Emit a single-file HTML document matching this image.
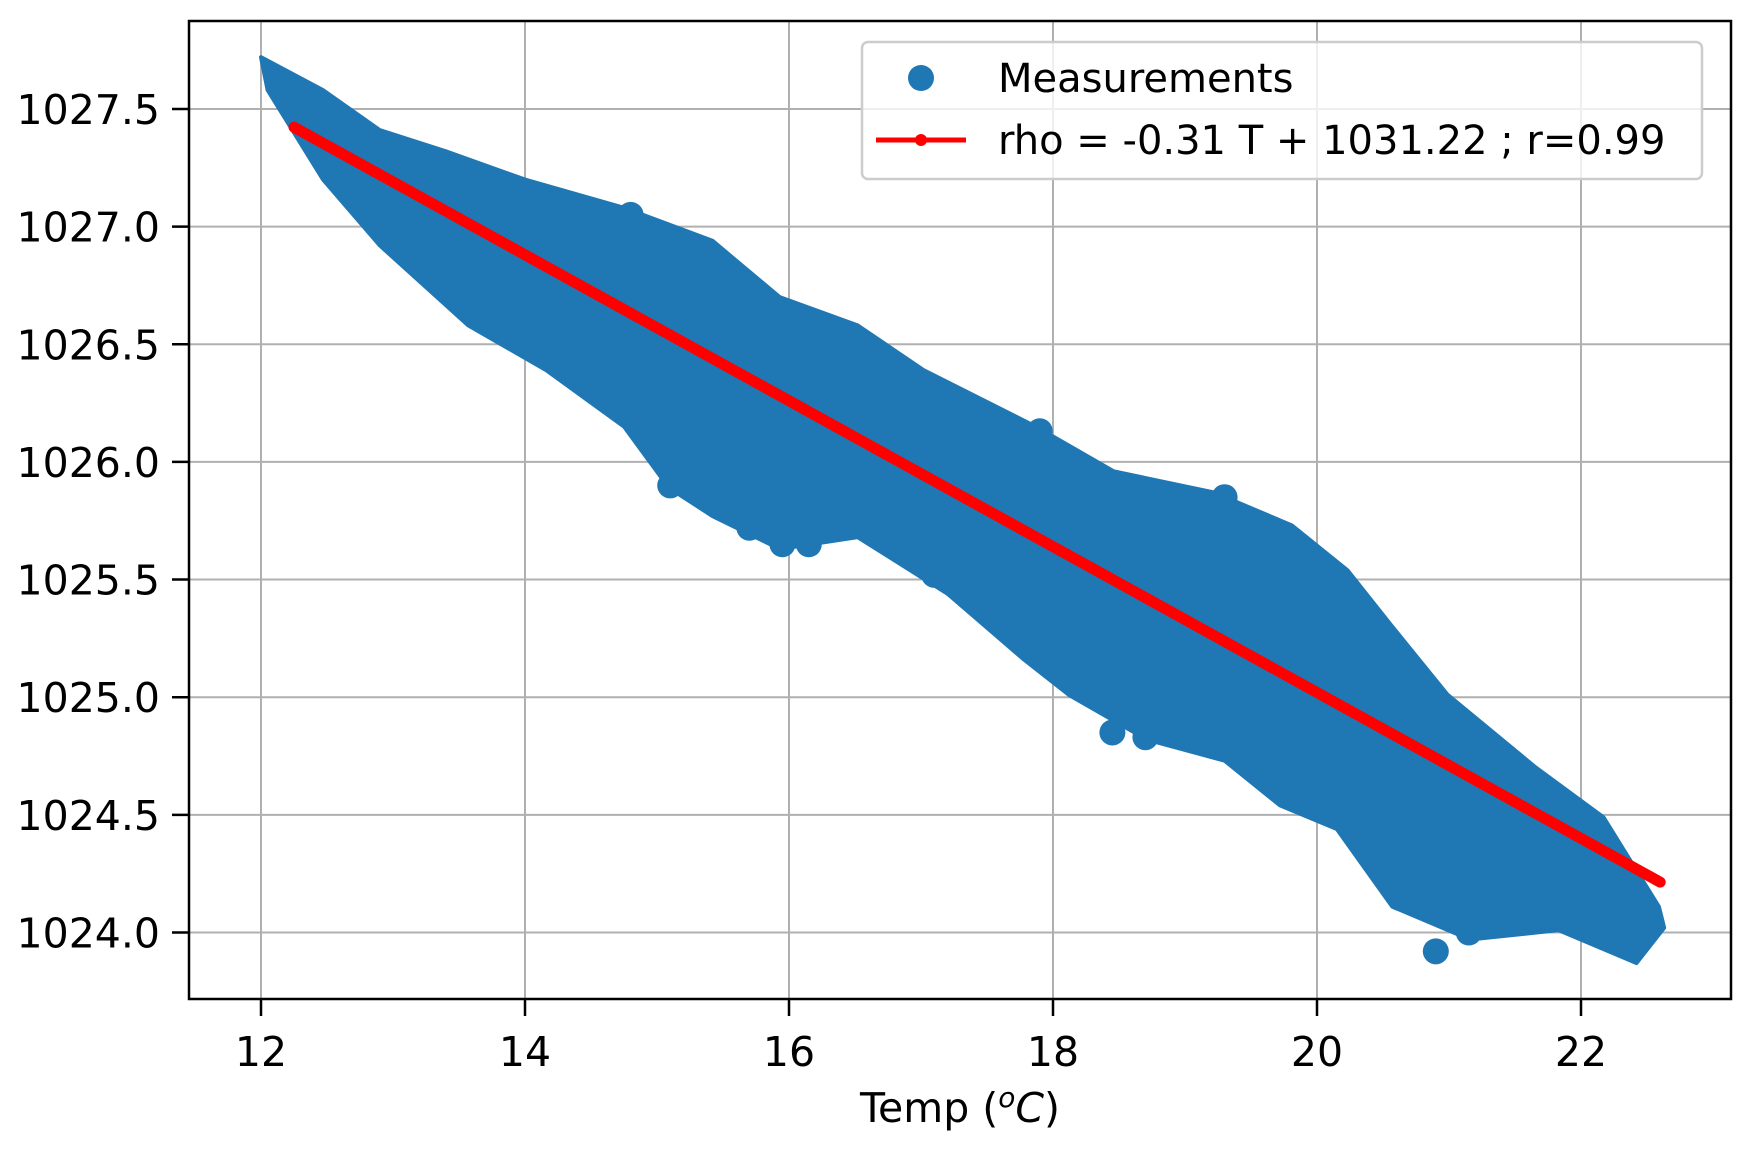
<!DOCTYPE html>
<html><head><meta charset="utf-8">
<style>body{margin:0;background:#fff}svg{display:block;font-family:"DejaVu Sans","Liberation Sans",sans-serif}</style></head>
<body>
<svg id="chart" width="1746" height="1153" viewBox="0 0 1746 1153" xmlns="http://www.w3.org/2000/svg">
<g id="grid"></g>
<g id="marks"></g>
<rect x="189" y="21" width="1542" height="978" fill="none" stroke="#000" stroke-width="2.5"/>
<g id="ticks"></g>
<text x="960" y="1122" font-size="41" text-anchor="middle">Temp (<tspan font-style="italic" font-size="28" dy="-15">o</tspan><tspan font-style="italic" dy="15">C</tspan>)</text>
<g>
<rect x="862" y="42" width="840" height="137" rx="6" fill="#fff" fill-opacity="0.8" stroke="#ccc" stroke-width="2.5"/>
<circle cx="921" cy="78" r="13" fill="#1f77b4"/>
<text x="998" y="92" font-size="40">Measurements</text>
<line x1="876" y1="140" x2="966" y2="140" stroke="red" stroke-width="5"/>
<circle cx="921" cy="140" r="6" fill="red"/>
<text x="998" y="154" font-size="40">rho = -0.31 T + 1031.22 ; r=0.99</text>
</g>
</svg>
<script>
const xTicks=[12,14,16,18,20,22];
const yTicks=[1024.0,1024.5,1025.0,1025.5,1026.0,1026.5,1027.0,1027.5];
const upperT=[12.0,12.47,12.9,13.4,14.0,14.75,15.42,15.93,16.52,17.02,17.87,18.46,19.22,19.81,20.23,20.57,20.99,21.66,22.17,22.59,22.63];
const upperRho=[1027.72,1027.58,1027.41,1027.32,1027.2,1027.08,1026.94,1026.7,1026.58,1026.39,1026.15,1025.96,1025.87,1025.73,1025.54,1025.3,1025.01,1024.7,1024.49,1024.11,1024.02];
const lowerT=[12.05,12.47,12.9,13.57,14.16,14.75,15.09,15.42,15.93,16.52,17.2,17.78,18.12,18.71,19.3,19.72,20.15,20.57,21.16,21.83,22.42];
const lowerRho=[1027.58,1027.2,1026.92,1026.58,1026.39,1026.15,1025.89,1025.77,1025.63,1025.68,1025.44,1025.16,1025.01,1024.82,1024.73,1024.54,1024.44,1024.11,1023.97,1024.01,1023.87];
const outT=[15.1,15.4,15.7,15.95,16.15,17.1,18.45,18.7,20.9,21.15,14.8,19.3,17.9];
const outRho=[1025.9,1025.85,1025.72,1025.65,1025.65,1025.52,1024.85,1024.83,1023.92,1024.0,1027.05,1025.85,1026.13];
const fitSlope=-0.31, fitIntercept=1031.22, fitT=[12.25,22.6];
const X=t=>261+(t-12)*132;
const Y=v=>932.5-(v-1024)*235.3;
const NS='http://www.w3.org/2000/svg';
function mk(tag,attrs,parent){const e=document.createElementNS(NS,tag);for(const k in attrs)e.setAttribute(k,attrs[k]);parent.appendChild(e);return e;}
const grid=document.getElementById('grid'),ticks=document.getElementById('ticks'),marks=document.getElementById('marks');
xTicks.forEach(t=>{
  const g=mk('line',{x1:X(t),x2:X(t),y1:21,y2:999,stroke:'#b0b0b0','stroke-width':2},grid);
  
  
  mk('line',{x1:X(t),x2:X(t),y1:999,y2:1016,stroke:'#000','stroke-width':2.5},ticks);
  const l=mk('text',{x:X(t),y:1066,'font-size':41,'text-anchor':'middle'},ticks);
  l.textContent=t;
  
  
});
yTicks.forEach(v=>{
  const g=mk('line',{x1:189,x2:1731,y1:Y(v),y2:Y(v),stroke:'#b0b0b0','stroke-width':2},grid);
  
  
  mk('line',{x1:172,x2:189,y1:Y(v),y2:Y(v),stroke:'#000','stroke-width':2.5},ticks);
  const l=mk('text',{x:160,y:Y(v)+15,'font-size':41,'text-anchor':'end'},ticks);
  l.textContent=v.toFixed(1);
  
  
});
let pts=upperT.map((t,i)=>X(t)+','+Y(upperRho[i]));
for(let i=lowerT.length-1;i>=0;i--)pts.push(X(lowerT[i])+','+Y(lowerRho[i]));
const band=mk('polygon',{points:pts.join(' '),fill:'#1f77b4',stroke:'#1f77b4','stroke-width':4,'stroke-linejoin':'round'},marks);


outT.forEach((t,i)=>{
  const c=mk('circle',{cx:X(t),cy:Y(outRho[i]),r:13,fill:'#1f77b4'},marks);
  
  
});
const fl=mk('line',{x1:X(fitT[0]),y1:Y(fitSlope*fitT[0]+fitIntercept),x2:X(fitT[1]),y2:Y(fitSlope*fitT[1]+fitIntercept),stroke:'red','stroke-width':11,'stroke-linecap':'round'},marks);


</script>
</body></html>
